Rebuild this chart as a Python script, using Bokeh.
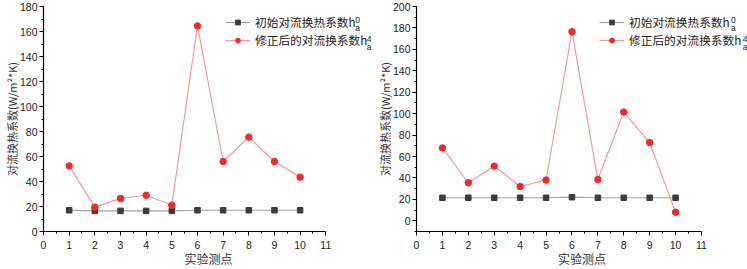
from bokeh.plotting import figure
from bokeh.layouts import row
from bokeh.models import (ColumnDataSource, Range1d, SingleIntervalTicker, Legend,
                          LegendItem, Label)
from bokeh.embed import file_html
from bokeh.resources import INLINE

# ---- data ----
points = [1, 2, 3, 4, 5, 6, 7, 8, 9, 10]
left_initial = [17, 16.5, 16.5, 16.5, 16.5, 17, 17, 17, 17, 17]
left_corrected = [52.5, 19.5, 26.5, 29, 21, 164.5, 56, 75.5, 56, 43.5]
right_initial = [21.5, 21.5, 21.5, 21.5, 21.5, 22, 21.5, 21.5, 21.5, 21.5]
right_corrected = [68, 35.5, 51, 32, 38, 176.5, 38.5, 101.5, 73, 8]

label_initial = "初始对流换热系数h"
label_corrected = "修正后的对流换系数h"
sup_initial = "0"
sup_corrected = "4"
sub_text = "a"
x_label = "实验测点"
y_label = "对流换热系数(W/m²*K)"

CJK = "Noto Sans CJK SC"
NUM = "Liberation Sans"

H = 269
TOP = 6
BOTTOM = 38
FRAME_H = H - TOP - BOTTOM
LEG_FS = 11.7


def make_chart(width, border_left, axis_px, y0, y1, initial, corrected, leg_x, sup2):
    frame_w = width - border_left
    x_end = 11 * frame_w / axis_px
    p = figure(width=width, height=H, output_backend="svg", toolbar_location=None,
               x_range=Range1d(0, x_end), y_range=Range1d(y0, y1),
               min_border_left=border_left, min_border_right=0,
               min_border_top=TOP, min_border_bottom=BOTTOM)
    p.outline_line_color = None
    p.grid.visible = False

    src = ColumnDataSource(dict(x=points, a=initial, b=corrected))
    l1 = p.line("x", "a", source=src, line_color="#a0a0a0", line_width=1.2)
    m1 = p.scatter("x", "a", source=src, marker="square", size=5.5,
                   fill_color="#3c3c3c", line_color="#3c3c3c")
    l2 = p.line("x", "b", source=src, line_color="#f49a9a", line_width=1.2)
    m2 = p.scatter("x", "b", source=src, marker="circle", size=6.5,
                   fill_color="#ee2a2f", line_color="#ee2a2f")

    p.xaxis.ticker = SingleIntervalTicker(interval=1, num_minor_ticks=2)
    p.yaxis.ticker = SingleIntervalTicker(interval=20, num_minor_ticks=2)
    p.xaxis.bounds = (0, 11)
    for ax in (p.xaxis, p.yaxis):
        ax.axis_line_color = "black"
        ax.axis_line_width = 1.2
        ax.major_tick_line_color = "black"
        ax.minor_tick_line_color = "black"
        ax.major_tick_in = 0
        ax.major_tick_out = 4
        ax.minor_tick_in = 0
        ax.minor_tick_out = 2
        ax.major_label_text_font = NUM
        ax.major_label_text_font_size = "10.5px"
        ax.major_label_text_color = "#222222"
        ax.axis_label_text_font = CJK
        ax.axis_label_text_font_style = "normal"
        ax.axis_label_text_color = "#333333"
        ax.axis_label_text_font_size = "12px"
    p.yaxis.axis_label_text_font_size = "11px"
    p.xaxis.major_label_standoff = 5
    p.xaxis.axis_label_standoff = -2
    p.yaxis.major_label_standoff = 2
    p.yaxis.axis_label_standoff = -3
    p.xaxis.axis_label = x_label
    p.yaxis.axis_label = y_label

    legend = Legend(items=[LegendItem(label=label_initial, renderers=[l1, m1]),
                           LegendItem(label=label_corrected, renderers=[l2, m2])],
                    location=(leg_x, 183), orientation="vertical",
                    background_fill_alpha=0, border_line_alpha=0,
                    glyph_width=25, glyph_height=12, label_height=12,
                    label_standoff=5, spacing=1, padding=0, margin=0,
                    label_text_font=CJK, label_text_font_size=f"{LEG_FS}px",
                    label_text_color="#222222")
    p.add_layout(legend, "center")

    # superscript / subscript after the "h" in each legend row
    px_per_unit = axis_px / 11
    text_start = leg_x + 25 + 5
    for row_i, (n_cjk, s) in enumerate([(8, sup_initial), (9, sup2)]):
        xs = (text_start + n_cjk * LEG_FS + 8) / px_per_unit
        yc = 17 + row_i * 19
        ys = y1 - (yc - 3.5) / FRAME_H * (y1 - y0)
        yb = y1 - (yc + 4) / FRAME_H * (y1 - y0)
        p.add_layout(Label(x=xs, y=ys, text=s, text_font=NUM, text_font_size="8.5px",
                           text_baseline="middle", text_color="#222222"))
        p.add_layout(Label(x=xs, y=yb, text=sub_text, text_font=NUM, text_font_size="8.5px",
                           text_baseline="middle", text_color="#222222"))
    return p


left = make_chart(373, 41, 284, 0, 180, left_initial, left_corrected, 182, sup_corrected)
right = make_chart(374, 43, 285, -10, 200, right_initial, right_corrected, 183, sup_corrected)

layout = row(left, right)
open("out.html", "w").write(file_html(layout, INLINE))
